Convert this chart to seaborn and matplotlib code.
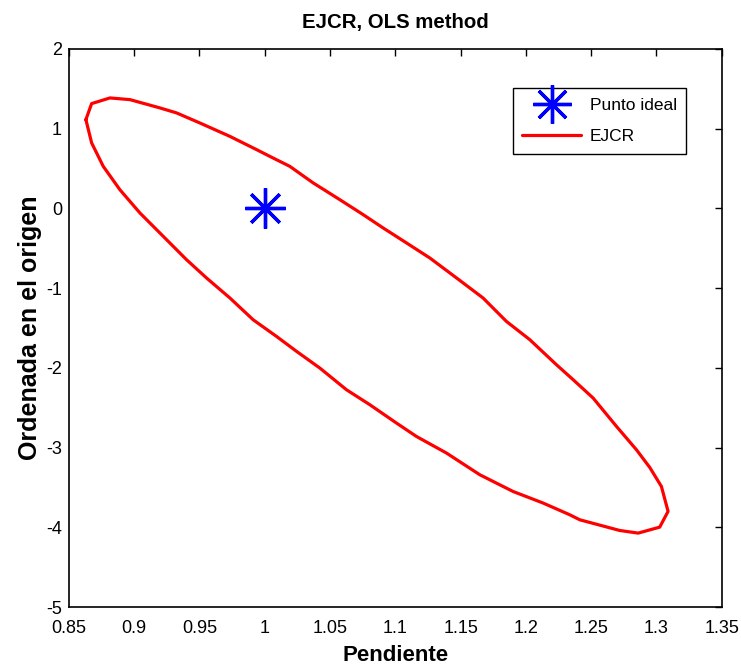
import matplotlib
matplotlib.use("Agg")
import matplotlib.pyplot as plt
import seaborn as sns

# Data
ideal_x = [1.0]
ideal_y = [0.0]

ejcr_x = [0.863, 0.8674, 0.8814, 0.8967, 0.9197, 0.9325, 0.9503, 0.9733, 0.9937,
          1.0039, 1.0192, 1.0371, 1.0575, 1.0754, 1.0907, 1.1086, 1.1264, 1.1469,
          1.1672, 1.1851, 1.203, 1.2234, 1.2362, 1.2515, 1.2694, 1.2847, 1.2949,
          1.3038, 1.3089, 1.3025, 1.286, 1.2719, 1.2413, 1.2336, 1.2132, 1.1902,
          1.1647, 1.1392, 1.1162, 1.1009, 1.0805, 1.0626, 1.0422, 1.0244, 1.009,
          0.9911, 0.9733, 0.9554, 0.9401, 0.9197, 0.9044, 0.889, 0.8763, 0.8674,
          0.863]
ejcr_y = [1.113, 1.314, 1.385, 1.364, 1.26, 1.197, 1.071, 0.903, 0.737,
          0.652, 0.527, 0.319, 0.109, -0.079, -0.246, -0.434, -0.622, -0.873,
          -1.124, -1.418, -1.647, -1.961, -2.149, -2.379, -2.735, -3.028, -3.25,
          -3.488, -3.80, -3.998, -4.073, -4.04, -3.906, -3.843, -3.696, -3.551,
          -3.341, -3.069, -2.861, -2.693, -2.463, -2.275, -2.003, -1.794, -1.606,
          -1.397, -1.124, -0.873, -0.644, -0.309, -0.058, 0.235, 0.527, 0.821,
          1.113]

x_ticks = [0.85, 0.9, 0.95, 1, 1.05, 1.1, 1.15, 1.2, 1.25, 1.3, 1.35]
x_ticklabels = ["0.85", "0.9", "0.95", "1", "1.05", "1.1", "1.15", "1.2", "1.25", "1.3", "1.35"]
y_ticks = [-5, -4, -3, -2, -1, 0, 1, 2]
y_ticklabels = ["-5", "-4", "-3", "-2", "-1", "0", "1", "2"]

sns.set_style("white")
plt.rcParams["font.family"] = ["Liberation Sans", "DejaVu Sans"]
plt.rcParams["text.color"] = "black"
plt.rcParams["axes.labelcolor"] = "black"

fig = plt.figure(figsize=(7.41, 6.70), dpi=100)
ax = fig.add_axes([0.093, 0.094, 0.881, 0.833])

sns.lineplot(x=ideal_x, y=ideal_y, ax=ax, color="blue", linestyle="none",
             marker=(8, 2, 0), markersize=29, markeredgewidth=2.4,
             markeredgecolor="blue", markerfacecolor="blue",
             label="Punto ideal")
sns.lineplot(x=ejcr_x, y=ejcr_y, ax=ax, sort=False, estimator=None,
             color="red", linewidth=2.3, label="EJCR")

ax.set_xlim(0.85, 1.35)
ax.set_ylim(-5, 2)
ax.set_xticks(x_ticks)
ax.set_xticklabels(x_ticklabels)
ax.set_yticks(y_ticks)
ax.set_yticklabels(y_ticklabels)
ax.tick_params(direction="in", top=True, right=True, length=5, width=1,
               labelsize=13, colors="black")
ax.tick_params(axis="x", pad=9)
ax.tick_params(axis="y", pad=5)
for s in ax.spines.values():
    s.set_visible(True)
    s.set_color("black")
    s.set_linewidth(1.2)

ax.set_title("EJCR, OLS method", fontsize=14.7, fontweight="bold", pad=15,
             color="black")
ax.set_xlabel("Pendiente", fontsize=16, fontweight="bold", labelpad=6)
ax.set_ylabel("Ordenada en el origen", fontsize=18, fontweight="bold", labelpad=3)

leg = ax.legend(loc="upper right", bbox_to_anchor=(0.946, 0.930), borderaxespad=0,
                fontsize=12.5, frameon=True, fancybox=False, edgecolor="black",
                framealpha=1, handlelength=3.4, borderpad=0.55, labelspacing=0.95,
                handletextpad=0.5, markerscale=0.95)
leg.get_frame().set_linewidth(1.0)

fig.savefig("out.png", dpi=100, facecolor="white")
